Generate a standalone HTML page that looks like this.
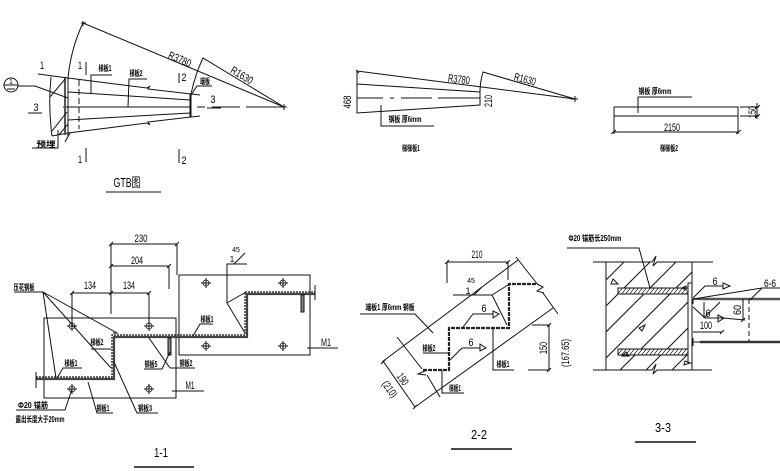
<!DOCTYPE html>
<html><head><meta charset="utf-8"><style>
html,body{margin:0;padding:0;background:#fff;width:780px;height:471px;overflow:hidden}
svg{display:block;filter:blur(0.3px)}
text{font-family:"Liberation Sans","Noto Sans CJK SC",sans-serif;fill:#000;text-anchor:middle}
.b{font-size:8px;font-weight:bold}
.d{font-size:11px}
.t{font-size:13px}
</style></head><body>
<svg width="780" height="471" viewBox="0 0 780 471" xmlns="http://www.w3.org/2000/svg">
<defs>
<clipPath id="w"><rect x="606" y="262" width="86" height="108"/></clipPath>
<clipPath id="g"><path d="M51 77L68 79V133L52 136L50 105Z"/></clipPath>
<clipPath id="a1"><rect x="618" y="288" width="70" height="6"/></clipPath>
<clipPath id="a2"><rect x="618" y="349" width="70" height="6"/></clipPath>
<g id="bolt"><circle r="3" fill="none" stroke="#111" stroke-width=".8"/><path d="M-5 0H5M0-5V5" stroke="#111" stroke-width="1" fill="none"/></g>
</defs>

<g fill="none" stroke="#111" stroke-width="1">
<!-- GTB plan -->
<path d="M68 78Q71 48 83 23L284 107L203 58Q195 75 191 94"/>
<path d="M38 74L68 78L147 88L150 86L148 89L191 94M68 92L190 100M63 107H190M68 120L190 113M52 136L68 133L147 123L150 125L148 122L191 117"/>
<path d="M191 94L200 95M191 117L200 116"/>
<path d="M51 77Q48 105 52 136M68 78V136" />
<path d="M65 78V135" stroke-width="2" stroke="#555"/>
<path d="M190.500 94V117" stroke-width="2"/>
<g clip-path="url(#g)"><path d="M50 97L66 78M52 131L67 112M58 136L68 124"/></g>
<path d="M79 80V129" stroke-dasharray="6 3"/>
<path d="M65 142L70 133L66 140M86 62V75M86 148V162M179 73V83M179 149V163"/>
<circle cx="11" cy="85" r="7"/><path d="M4 85H18M7 89H15M18 86H35L68 98"/>
<path d="M28 113H42M207 108H221"/>
<path d="M197 107H205M212 107H240M246 107H284" />
<path d="M32 148H58V130M212 86H197L191 95M112 75H91V94M147 79H129L128 107M106 192H161"/>
<path d="M281 107H287M284 104V110M81 23H86M83 21V26"/>

<!-- Stair plate 1 -->
<path d="M357 71L575 99L483 72Q480 82 480 92M357 71V113L480 105V92L357 84"/>
<path d="M357 98H383M390 98H394M401 98H432M438 98H480" />
<path d="M381 105V126H434"/>
<path d="M356 70L359 73M571 99H578M575 96V102"/>
<!-- Stair plate 2 -->
<rect x="614" y="107" width="124" height="9"/>
<path d="M638 113V97H692M614 116V134M738 116V134M613 132H739M740 107H759M740 116H759M757 103V119"/>
<path d="M611 134L616 130M736 134L741 130M755 109L760 105M755 118L760 114"/>

<!-- 1-1 -->
<rect x="44" y="318" width="132" height="80"/>
<rect x="179" y="275" width="131" height="80"/>
<path d="M36 379H114V337H247V294H315" stroke-width="2.200" stroke="#444"/>
<path d="M36 377H112V335H245V292H315" stroke="#111" stroke-width="1.200" stroke-dasharray="2 1"/>
<path d="M36 372V388M315 285V300"/>
<rect x="168" y="338" width="3" height="17" fill="#888"/>
<rect x="301" y="295" width="3" height="17" fill="#888"/>
<path d="M111 244V314M177 244V275M111 244H177M111 266H169M169 266V289M72 293H149M72 293V322M149 293V322"/>
<path d="M109 246L113 242M175 246L179 242M109 268L113 264M167 268L171 264M70 295L74 291M109 295L113 291M147 295L151 291"/>
<path d="M14 292H43L56 378M43 292L111 368M43 292L117 333H113"/>
<path d="M82 368H63L57 378M91 349H111M88 382L97 413H113M114 362L137 413H158M170 352L162 369H144M149 338L170 368H195M172 391H204M307 348H338M16 410H65L72 389"/>
<path d="M247 264H227V303L245 333M227 303L246 292M234 264L245 253M213 324H200L193 336"/>
<path d="M134 467H194" stroke-width="1.500"/>

<!-- 2-2 -->
<path d="M423 370H449V328H509V284H537" stroke-width="2.200" stroke="#222" stroke-dasharray="4 1"/>
<path d="M537 284L543 287L537 291L544 293M427 370L418 374L426 375"/>
<path d="M382 362L518 260M415 407L553 308M383 361L415 407M397 337L422 369M427 375L440 397M516 257L538 285M543 293L558 314"/>
<path d="M447 262H508M447 262V283M508 262V280M445 264L449 260M506 264L510 260"/>
<path d="M453 295H492L507 325M492 295L508 285M474 295L482 287"/>
<path d="M463 327L473 314H493M450 360L462 348H480"/>
<path d="M493 311L499 314L493 318ZM480 344L486 348L480 351Z"/>
<path d="M360 314H415L433 333M423 353H448M493 328V370H514M442 370V393H464"/>
<path d="M528 370H550M532 325H550M549 325V370M547 327L551 323M547 372L551 368M381 364L385 360M413 409L417 405"/>
<path d="M451 449H512" stroke-width="1.500"/>

<!-- 3-3 -->
<path d="M593 262H652L656 256L653 266L657 262H713M593 370H652L656 364L653 374L657 370H712M606 262V370M692 262V370"/>
<g clip-path="url(#w)"><path d="M580 306L626 260M580 332L652 260M580 358L678 260M580 384L704 260M606 384L730 260M632 384L756 260M658 384L782 260"/></g>
<rect x="618" y="288" width="70" height="6" fill="#fff"/><rect x="618" y="349" width="70" height="6" fill="#fff"/>
<g clip-path="url(#a1)" stroke-width=".7"><path d="M616 296L624 286M620 296L628 286M624 296L632 286M628 296L636 286M632 296L640 286M636 296L644 286M640 296L648 286M644 296L652 286M648 296L656 286M652 296L660 286M656 296L664 286M660 296L668 286M664 296L672 286M668 296L676 286M672 296L680 286M676 296L684 286M680 296L688 286M684 296L692 286"/></g>
<g clip-path="url(#a2)" stroke-width=".7"><path d="M616 357L624 347M620 357L628 347M624 357L632 347M628 357L636 347M632 357L640 347M636 357L644 347M640 357L648 347M644 357L652 347M648 357L656 347M652 357L660 347M656 357L664 347M660 357L668 347M664 357L672 347M668 357L676 347M672 357L680 347M676 357L684 347M680 357L688 347M684 357L692 347"/></g>
<rect x="618" y="288" width="70" height="6"/><rect x="618" y="349" width="70" height="6"/>
<rect x="688" y="283" width="4" height="80" fill="#fff"/>
<path d="M613 279L618 284L611 284ZM645 325L642 331L639 328ZM626 352L629 356L622 356ZM686 286L682 288L686 290ZM685 361L690 363L684 365Z"/>
<path d="M693 299H780" stroke-width="1.500"/>
<path d="M700 299H780M700 342H780" stroke="#555" stroke-width="2.500"/>
<path d="M693 342H780" stroke-width="1"/>
<path d="M693 299V304M693 338V346"/>
<path d="M749 299V342" stroke-dasharray="5 3"/>
<path d="M567 248H639L650 288"/>
<path d="M693 298L705 286H723M693 299L762 288H780M762 288L750 300M693 307L705 318H723M704 318L720 302M704 318V302"/>
<path d="M723 283L730 286L723 289ZM718 315L724 318L718 322Z"/>
<path d="M743 299V320M723 318L745 320M741 322L745 318"/>
<path d="M693 332H722M720 334L724 330"/>
<path d="M635 442H696" stroke-width="1.500"/>
</g>

<use href="#bolt" x="72" y="326"/><use href="#bolt" x="149" y="326"/><use href="#bolt" x="72" y="389"/><use href="#bolt" x="149" y="389"/>
<use href="#bolt" x="206" y="283"/><use href="#bolt" x="283" y="283"/><use href="#bolt" x="206" y="346"/><use href="#bolt" x="283" y="346"/>

<!-- text GTB -->
<text class="d" x="42" y="69" textLength="4" lengthAdjust="spacingAndGlyphs">1</text><text class="d" x="36" y="111" textLength="5" lengthAdjust="spacingAndGlyphs">3</text><text class="d" x="213" y="103" textLength="5" lengthAdjust="spacingAndGlyphs">3</text>
<text class="d" x="80" y="69" textLength="4" lengthAdjust="spacingAndGlyphs">1</text><text class="d" x="80" y="163" textLength="4" lengthAdjust="spacingAndGlyphs">1</text><text class="d" x="184" y="81" textLength="5" lengthAdjust="spacingAndGlyphs">2</text><text class="d" x="184" y="164" textLength="5" lengthAdjust="spacingAndGlyphs">2</text>
<text x="11" y="84" style="font-size:7px">1</text>
<text class="b" x="105" y="71" textLength="13" lengthAdjust="spacingAndGlyphs">梯板1</text><text class="b" x="136" y="76" textLength="13" lengthAdjust="spacingAndGlyphs">梯板2</text><text class="b" x="205" y="84" textLength="10" lengthAdjust="spacingAndGlyphs">端板</text><text class="b" x="46" y="147" textLength="19" lengthAdjust="spacingAndGlyphs">预埋</text>
<text class="d" x="180" y="63" transform="rotate(23 180 59)" textLength="24" lengthAdjust="spacingAndGlyphs">R3780</text>
<text class="d" x="242" y="79" transform="rotate(31 242 75)" textLength="24" lengthAdjust="spacingAndGlyphs">R1630</text>
<text class="t" x="127" y="187" textLength="27" lengthAdjust="spacingAndGlyphs">GTB图</text>

<!-- text plates -->
<text class="d" x="459" y="83" transform="rotate(7 459 79)" textLength="22" lengthAdjust="spacingAndGlyphs">R3780</text>
<text class="d" x="525" y="83" transform="rotate(15 525 79)" textLength="22" lengthAdjust="spacingAndGlyphs">R1630</text>
<text class="d" x="347" y="106" transform="rotate(-90 347 102)" textLength="13" lengthAdjust="spacingAndGlyphs">468</text>
<text class="d" x="488" y="105" transform="rotate(-90 488 101)" textLength="12" lengthAdjust="spacingAndGlyphs">210</text>
<text class="b" x="405" y="122" textLength="33" lengthAdjust="spacingAndGlyphs">钢板 厚6mm</text><text class="b" x="411" y="151" textLength="18" lengthAdjust="spacingAndGlyphs">梯梯板1</text>
<text class="b" x="655" y="94" textLength="33" lengthAdjust="spacingAndGlyphs">钢板 厚6mm</text><text class="d" x="672" y="131" textLength="16" lengthAdjust="spacingAndGlyphs">2150</text>
<text class="d" x="752" y="116" transform="rotate(-90 752 112)" textLength="12" lengthAdjust="spacingAndGlyphs">150</text><text class="b" x="669" y="151" textLength="18" lengthAdjust="spacingAndGlyphs">梯梯板2</text>

<!-- text 1-1 -->
<text class="d" x="141" y="242" textLength="13" lengthAdjust="spacingAndGlyphs">230</text><text class="d" x="137" y="264" textLength="12" lengthAdjust="spacingAndGlyphs">204</text><text class="d" x="90" y="289" textLength="12" lengthAdjust="spacingAndGlyphs">134</text><text class="d" x="129" y="289" textLength="12" lengthAdjust="spacingAndGlyphs">134</text>
<text class="b" x="24" y="290" textLength="21" lengthAdjust="spacingAndGlyphs">压花钢板</text>
<text class="b" x="71" y="366" textLength="13" lengthAdjust="spacingAndGlyphs">梯板1</text><text class="b" x="97" y="345" textLength="13" lengthAdjust="spacingAndGlyphs">梯板2</text><text class="b" x="103" y="411" textLength="13" lengthAdjust="spacingAndGlyphs">钢板1</text><text class="b" x="145" y="411" textLength="14" lengthAdjust="spacingAndGlyphs">钢板3</text><text class="b" x="151" y="367" textLength="13" lengthAdjust="spacingAndGlyphs">钢板5</text><text class="b" x="186" y="366" textLength="13" lengthAdjust="spacingAndGlyphs">钢板2</text><text class="b" x="207" y="322" textLength="13" lengthAdjust="spacingAndGlyphs">梯板1</text>
<text class="d" x="190" y="389" textLength="9" lengthAdjust="spacingAndGlyphs">M1</text><text class="d" x="326" y="346" textLength="10" lengthAdjust="spacingAndGlyphs">M1</text>
<text class="b" x="33" y="408" textLength="30" lengthAdjust="spacingAndGlyphs">Φ20 锚筋</text><text class="b" x="40" y="422" textLength="49" lengthAdjust="spacingAndGlyphs">露出长度大于20mm</text>
<text x="236" y="252" style="font-size:7px">45</text><text x="232" y="262" style="font-size:8px">1</text>
<text class="t" x="161" y="457" textLength="14" lengthAdjust="spacingAndGlyphs">1-1</text>

<!-- text 2-2 -->
<text class="d" x="477" y="258" textLength="11" lengthAdjust="spacingAndGlyphs">210</text><text x="471" y="283" style="font-size:7px">45</text><text x="468" y="294" style="font-size:9px">1</text>
<text class="d" x="484" y="312" textLength="5" lengthAdjust="spacingAndGlyphs">6</text><text class="d" x="471" y="346" textLength="5" lengthAdjust="spacingAndGlyphs">6</text>
<text class="b" x="390" y="310" textLength="49" lengthAdjust="spacingAndGlyphs">端板1 厚6mm 钢板</text><text class="b" x="429" y="351" textLength="13" lengthAdjust="spacingAndGlyphs">梯板2</text><text class="b" x="503" y="367" textLength="13" lengthAdjust="spacingAndGlyphs">梯板1</text><text class="b" x="455" y="391" textLength="12" lengthAdjust="spacingAndGlyphs">梯板1</text>
<text class="d" x="543" y="352" transform="rotate(-90 543 348)" textLength="12" lengthAdjust="spacingAndGlyphs">150</text>
<text class="d" x="403" y="383" transform="rotate(55 403 379)" textLength="12" lengthAdjust="spacingAndGlyphs">190</text>
<text class="d" x="390" y="393" transform="rotate(55 390 389)" textLength="18" lengthAdjust="spacingAndGlyphs">(210)</text>
<text class="t" x="479" y="439" textLength="16" lengthAdjust="spacingAndGlyphs">2-2</text>

<!-- text 3-3 -->
<text class="b" x="595" y="241" textLength="53" lengthAdjust="spacingAndGlyphs">Φ20 锚筋长250mm</text>
<text class="d" x="565" y="357" transform="rotate(-90 565 353)" textLength="28" lengthAdjust="spacingAndGlyphs">(167.65)</text>
<text class="d" x="715" y="285" textLength="5" lengthAdjust="spacingAndGlyphs">6</text><text class="d" x="708" y="317" textLength="5" lengthAdjust="spacingAndGlyphs">6</text><text class="d" x="770" y="287" textLength="12" lengthAdjust="spacingAndGlyphs">6-6</text><text class="d" x="706" y="329" textLength="12" lengthAdjust="spacingAndGlyphs">100</text>
<text class="d" x="737" y="314" transform="rotate(-90 737 310)" textLength="10" lengthAdjust="spacingAndGlyphs">60</text>
<text class="t" x="663" y="432" textLength="16" lengthAdjust="spacingAndGlyphs">3-3</text>
</svg>
</body></html>
